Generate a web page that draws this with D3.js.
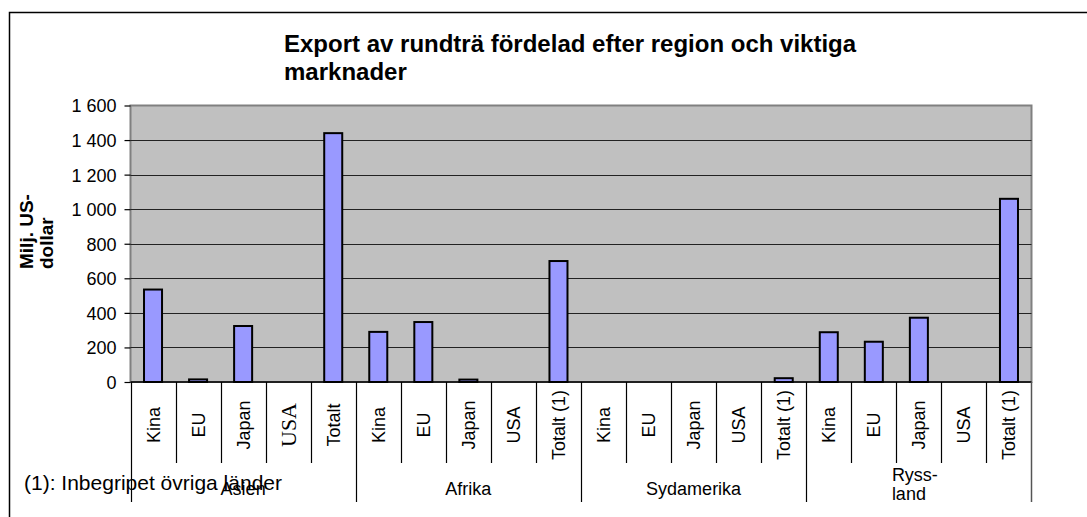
<!DOCTYPE html>
<html>
<head>
<meta charset="utf-8">
<script src="https://cdn.jsdelivr.net/npm/d3@7"></script>
<style>
    html, body { margin: 0; padding: 0; background: #fff; }
    svg { display: block; font-family: "Liberation Sans", Arial, sans-serif; }
</style>
</head>
<body>
<svg id="chart"></svg>
<script>
// Regions (outer level of the category axis) and markets (inner level)
const regions = ["Asien", "Afrika", "Sydamerika", "Ryss-\nland"];
const marketsAsien = ["Kina", "EU", "Japan", "USA", "Totalt"];
const marketsOther = ["Kina", "EU", "Japan", "USA", "Totalt (1)"];

// Milj. US-dollar
const valuesAsien = [535, 15, 324, 0, 1440];
const valuesAfrika = [290, 347, 14, 0, 700];
const valuesSydamerika = [0, 0, 0, 0, 22];
const valuesRyssland = [288, 233, 372, 0, 1060];

const yTicks = [0, 200, 400, 600, 800, 1000, 1200, 1400, 1600];

const titleLines = ["Export av rundträ fördelad efter region och viktiga", "marknader"];
const yTitleLines = ["Milj. US-", "dollar"];
const footnote = "(1): Inbegripet övriga länder";

// Layout
const width = 1087;
const height = 517;
const plot = { left: 130.5, right: 1031.5, top: 105.5, bottom: 382 };

const barFill = "#9999ff";
const plotBg = "#c0c0c0";

function drawChart() {
    const svg = d3.select("#chart")
        .attr("width", width)
        .attr("height", height);

    // flatten into one row per bar
    const valueSets = [valuesAsien, valuesAfrika, valuesSydamerika, valuesRyssland];
    const rows = [];
    regions.forEach((region, r) => {
        const markets = r === 0 ? marketsAsien : marketsOther;
        markets.forEach((m, i) => {
            rows.push({ key: r + "-" + i, region: r, market: m, value: valueSets[r][i] });
        });
    });

    const x = d3.scaleBand()
        .domain(rows.map(d => d.key))
        .range([plot.left, plot.right])
        .padding(0);
    const bw = x.bandwidth();

    const y = d3.scaleLinear()
        .domain([0, 1600])
        .range([plot.bottom, plot.top]);

    // outer chart border (runs off the right and bottom edge)
    svg.append("rect")
        .attr("x", 9.5)
        .attr("y", 12.5)
        .attr("width", 1200)
        .attr("height", 700)
        .attr("fill", "none")
        .attr("stroke", "#000")
        .attr("stroke-width", 1.5);

    // plot background
    svg.append("rect")
        .attr("x", plot.left)
        .attr("y", plot.top)
        .attr("width", plot.right - plot.left)
        .attr("height", plot.bottom - plot.top)
        .attr("fill", plotBg)
        .attr("stroke", "#808080")
        .attr("stroke-width", 2);

    // gridlines
    svg.append("g")
        .selectAll("line")
        .data(yTicks.filter(t => t > 0 && t < 1600))
        .join("line")
        .attr("x1", plot.left)
        .attr("x2", plot.right)
        .attr("y1", d => Math.round(y(d)) + 0.5)
        .attr("y2", d => Math.round(y(d)) + 0.5)
        .attr("stroke", "#222")
        .attr("stroke-width", 1.2);

    // y axis
    const fmt = d3.formatLocale({ decimal: ",", thousands: " ", grouping: [3], currency: ["", ""] }).format(",");
    const yAxis = svg.append("g")
        .attr("transform", `translate(${plot.left},0)`)
        .call(d3.axisLeft(y).tickValues(yTicks).tickFormat(fmt).tickSize(6).tickPadding(8));
    yAxis.select(".domain").remove();
    yAxis.selectAll(".tick line").attr("stroke", "#000").attr("stroke-width", 1.2);
    yAxis.selectAll(".tick text")
        .attr("font-size", 18)
        .attr("font-family", "Liberation Sans, Arial, sans-serif")
        .attr("fill", "#000")
        .attr("dy", "0.36em");

    // bars
    svg.append("g")
        .selectAll("rect")
        .data(rows.filter(d => d.value > 0))
        .join("rect")
        .attr("x", d => x(d.key) + bw * 0.3)
        .attr("y", d => y(d.value))
        .attr("width", bw * 0.4)
        .attr("height", d => y(0) - y(d.value))
        .attr("fill", barFill)
        .attr("stroke", "#000")
        .attr("stroke-width", 2);

    // x axis line
    svg.append("line")
        .attr("x1", plot.left)
        .attr("x2", plot.right)
        .attr("y1", plot.bottom)
        .attr("y2", plot.bottom)
        .attr("stroke", "#000")
        .attr("stroke-width", 1.5);

    // separators between markets (short) and regions (long)
    const sepG = svg.append("g");
    rows.forEach((d, i) => {
        const xx = Math.round(x(d.key)) + 0.5;
        const isRegionEdge = i % 5 === 0;
        sepG.append("line")
            .attr("x1", xx).attr("x2", xx)
            .attr("y1", plot.bottom)
            .attr("y2", isRegionEdge ? 502 : 463)
            .attr("stroke", "#000")
            .attr("stroke-width", 1.2);
    });
    sepG.append("line")
        .attr("x1", plot.right).attr("x2", plot.right)
        .attr("y1", plot.bottom).attr("y2", 502)
        .attr("stroke", "#555")
        .attr("stroke-width", 1.5);

    // market labels, rotated
    svg.append("g")
        .selectAll("text")
        .data(rows)
        .join("text")
        .attr("transform", d => `translate(${x(d.key) + bw / 2},425) rotate(-90)`)
        .attr("text-anchor", "middle")
        .attr("dy", "0.36em")
        .attr("font-size", d => (d.region === 0 && d.market === "USA") ? 22 : 18)
        .attr("font-family", d => (d.region === 0 && d.market === "USA")
            ? "Liberation Serif, Times New Roman, serif" : null)
        .attr("fill", "#000")
        .text(d => d.market);

    // footnote (drawn before region labels, it sits under "Asien")
    svg.append("text")
        .attr("x", 24)
        .attr("y", 490)
        .attr("font-size", 21)
        .attr("fill", "#000")
        .text(footnote);

    // region labels: block centred in the region, lines left-aligned
    regions.forEach((name, r) => {
        const x0 = x(r + "-0");
        const x1 = x(r + "-4") + bw;
        const cx = (x0 + x1) / 2;
        const lines = name.split("\n");
        const t = svg.append("text")
            .attr("font-size", 18)
            .attr("fill", "#000");
        if (lines.length === 1) {
            t.attr("x", cx).attr("y", 495).attr("text-anchor", "middle").text(name);
        } else {
            lines.forEach((ln, k) => {
                t.append("tspan")
                    .attr("y", 481 + k * 19)
                    .text(ln);
            });
            const w = d3.max(t.selectAll("tspan").nodes(), n => n.getComputedTextLength());
            t.selectAll("tspan").attr("x", cx - w / 2 - 4);
        }
    });

    // title
    const title = svg.append("text")
        .attr("font-size", 24)
        .attr("font-weight", "bold")
        .attr("fill", "#000");
    titleLines.forEach((ln, k) => {
        title.append("tspan")
            .attr("x", 284)
            .attr("y", 52 + k * 28)
            .text(ln);
    });

    // y axis title, rotated
    yTitleLines.forEach((ln, k) => {
        svg.append("text")
            .attr("transform", `translate(${33 + k * 20},269) rotate(-90)`)
            .attr("text-anchor", "start")
            .attr("font-size", 19)
            .attr("font-weight", "bold")
            .attr("fill", "#000")
            .text(ln);
    });
}

drawChart();
</script>
</body>
</html>
